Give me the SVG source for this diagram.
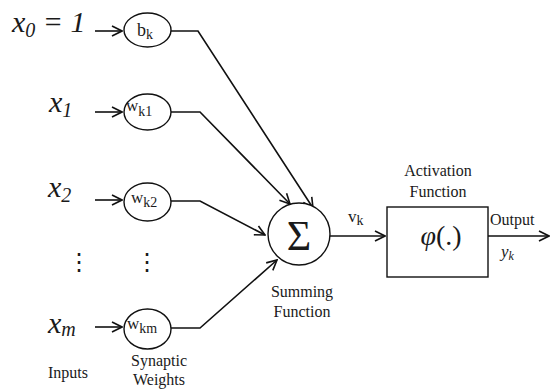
<svg xmlns="http://www.w3.org/2000/svg" width="550" height="389" viewBox="0 0 550 389">
<defs>
<marker id="arr" viewBox="0 0 12 12" refX="11" refY="6" markerWidth="12" markerHeight="12" markerUnits="userSpaceOnUse" orient="auto">
<path d="M1,1 L11,6 L1,11" fill="none" stroke="#111" stroke-width="1.6"/>
</marker>
</defs>
<style>
.ln{fill:none;stroke:#111;stroke-width:1.6}
.nd{fill:#fff;stroke:#111;stroke-width:1.4}
.t{font-family:"Liberation Serif","Times New Roman",serif;fill:#1a1a1a}
.m{font-family:"Liberation Serif","Times New Roman",serif;font-style:italic;fill:#1a1a1a}
.d{font-family:"DejaVu Sans",sans-serif;fill:#1a1a1a}
</style>
<rect width="550" height="389" fill="#fff"/>
<g id="connectors">
<line class="ln" x1="95" y1="31" x2="122" y2="31" marker-end="url(#arr)"/>
<line class="ln" x1="95" y1="112" x2="122" y2="112" marker-end="url(#arr)"/>
<line class="ln" x1="95" y1="200" x2="122" y2="200" marker-end="url(#arr)"/>
<line class="ln" x1="95" y1="327" x2="122" y2="327" marker-end="url(#arr)"/>
<polyline class="ln" points="171,31 198,31 313,208" marker-end="url(#arr)"/>
<polyline class="ln" points="171,112 200,112 290,204" marker-end="url(#arr)"/>
<polyline class="ln" points="171,201 200,201 265,235" marker-end="url(#arr)"/>
<polyline class="ln" points="171,328 200,328 277,260" marker-end="url(#arr)"/>
<line class="ln" x1="330" y1="236" x2="385" y2="236" marker-end="url(#arr)"/>
<line class="ln" x1="488" y1="236" x2="549" y2="236" marker-end="url(#arr)"/>
</g>
<g id="inputs">
<text class="m" x="12" y="32" font-size="30">x<tspan font-size="20" dy="5">0</tspan><tspan dy="-5"> = 1</tspan></text>
<text class="m" x="49" y="112" font-size="30">x<tspan font-size="20" dy="5">1</tspan></text>
<text class="m" x="48" y="197" font-size="30">x<tspan font-size="20" dy="5">2</tspan></text>
<text class="m" x="48" y="333" font-size="30">x<tspan font-size="20" dy="3">m</tspan></text>
<text class="d" x="79" y="270" font-size="24" text-anchor="middle">⋮</text>
<text class="d" x="147" y="270" font-size="24" text-anchor="middle">⋮</text>
<text class="t" x="68" y="378" font-size="16" text-anchor="middle">Inputs</text>
</g>
<g id="bk">
<ellipse class="nd" cx="147.5" cy="30" rx="23.5" ry="17"/>
<text class="t" x="137" y="36" font-size="18">b<tspan font-size="14" dy="3">k</tspan></text>
</g>
<g id="wk1">
<ellipse class="nd" cx="147.5" cy="112" rx="23.5" ry="18"/>
<text class="t" x="126" y="111" font-size="17">w<tspan font-size="14" dy="5">k1</tspan></text>
</g>
<g id="wk2">
<ellipse class="nd" cx="147.5" cy="202" rx="23.5" ry="19"/>
<text class="t" x="131" y="203" font-size="17">w<tspan font-size="14" dy="4">k2</tspan></text>
</g>
<g id="wkm">
<ellipse class="nd" cx="147.5" cy="329" rx="23.5" ry="20"/>
<text class="t" x="127" y="329" font-size="17">w<tspan font-size="14" dy="4">km</tspan></text>
<text class="t" x="159" y="366" font-size="16" text-anchor="middle">Synaptic</text>
<text class="t" x="159" y="385" font-size="16" text-anchor="middle">Weights</text>
</g>
<g id="sum">
<ellipse class="nd" cx="299" cy="234" rx="31" ry="31"/>
<text class="t" x="299" y="250" font-size="42" text-anchor="middle">Σ</text>
<text class="t" x="302" y="297" font-size="16" text-anchor="middle">Summing</text>
<text class="t" x="302" y="317" font-size="16" text-anchor="middle">Function</text>
<text class="t" x="348" y="222" font-size="17">v<tspan font-size="14" dy="3">k</tspan></text>
</g>
<g id="activation">
<rect class="nd" x="387" y="207" width="101" height="70"/>
<text class="t" x="438" y="176" font-size="16" text-anchor="middle">Activation</text>
<text class="t" x="438" y="197" font-size="16" text-anchor="middle">Function</text>
<text class="t" x="441" y="245" font-size="28" text-anchor="middle"><tspan font-style="italic">φ</tspan>(.)</text>
</g>
<g id="output">
<text class="t" x="490" y="225" font-size="16">Output</text>
<text class="m" x="501" y="257" font-size="17">y<tspan font-size="12" dy="3">k</tspan></text>
</g>
</svg>
